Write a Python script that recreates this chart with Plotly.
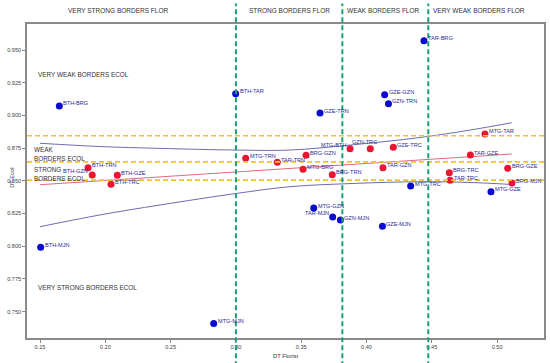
import plotly.graph_objects as go

# ---- data ----
blue_labels = ["BTH-BRG", "BTH-TAR", "TAR-BRG", "GZE-GZN", "GZN-TRN", "GZE-TRN", "BTH-MJN",
               "MTG-MJN", "MTG-TRC", "MTG-GZE", "MTG-GZN", "TAR-MJN", "GZN-MJN", "GZE-MJN"]
blue_x = [0.1648, 0.2998, 0.4440, 0.4139, 0.4168, 0.3644, 0.1505,
          0.2830, 0.4338, 0.4953, 0.3596, 0.3741, 0.3800, 0.4122]
blue_y = [0.9072, 0.9166, 0.9571, 0.9158, 0.9090, 0.9018, 0.7992,
          0.7410, 0.8460, 0.8417, 0.8292, 0.8223, 0.8200, 0.8152]

red_labels = ["BTH-TRN", "BTH-GZN", "BTH-GZE", "BTH-TRC", "MTG-TRN", "TAR-TRN", "BRG-GZN",
              "MTG-BRG", "BRG-TRN", "MTG-BTH", "GZN-TRC", "GZE-TRC", "TAR-GZN", "BRG-TRC",
              "TAR-TRC", "TAR-GZE", "MTG-TAR", "BRG-GZE", "BRG-MJN"]
red_x = [0.1868, 0.1900, 0.2092, 0.2044, 0.3075, 0.3317, 0.3537,
         0.3514, 0.3738, 0.3874, 0.4029, 0.4205, 0.4126, 0.4634,
         0.4640, 0.4795, 0.4907, 0.5081, 0.5114]
red_y = [0.8600, 0.8544, 0.8542, 0.8473, 0.8672, 0.8641, 0.8695,
         0.8588, 0.8547, 0.8745, 0.8745, 0.8756, 0.8600, 0.8562,
         0.8504, 0.8697, 0.8858, 0.8596, 0.8483]

fit_x = [0.150, 0.5112]
fit_y = [0.8470, 0.8705]

band_x = [0.150, 0.1959, 0.2419, 0.3008, 0.3414, 0.3881, 0.4410, 0.4793, 0.5112]
band_upper = [0.8787, 0.8762, 0.8748, 0.8735, 0.8735, 0.8774, 0.8831, 0.8888, 0.8944]
band_lower = [0.8149, 0.8239, 0.8315, 0.8404, 0.8455, 0.8479, 0.8493, 0.8487, 0.8472]

flor_breaks = [0.300, 0.3815, 0.4473]
ecol_breaks = [0.8845, 0.8645, 0.8505]

flor_classes = ["VERY STRONG BORDERS FLOR", "STRONG BORDERS FLOR", "WEAK BORDERS FLOR", "VERY WEAK BORDERS FLOR"]
flor_class_x = [0.2097, 0.3412, 0.4130, 0.4865]

ecol_classes = ["VERY WEAK BORDERS ECOL", "WEAK", "BORDERS ECOL", "STRONG", "BORDERS ECOL", "VERY STRONG BORDERS ECOL"]
ecol_class_y = [0.9309, 0.8743, 0.8674, 0.8583, 0.8514, 0.7688]

x_ticks = [0.15, 0.20, 0.25, 0.30, 0.35, 0.40, 0.45, 0.50]
y_ticks = [0.750, 0.775, 0.800, 0.825, 0.850, 0.875, 0.900, 0.925, 0.950]

x_title = "DT Florist"
y_title = "DT Ecol"

# ---- label placement overrides (style) ----
label_place = {
    "BTH-GZN": ("right", -2, 4),
    "TAR-MJN": ("right", -2, 4),
    "MTG-BTH": ("right", -2, 4),
    "GZN-TRC": ("center", -6, 7),
}

FONT = "Liberation Sans, Arial, sans-serif"
LABEL_COLOR = "#2b2b95"

fig = go.Figure()

fig.add_trace(go.Scatter(x=band_x, y=band_upper, mode="lines", line=dict(color="#6b6bb3", width=1, shape="spline"),
                         hoverinfo="skip", showlegend=False))
fig.add_trace(go.Scatter(x=band_x, y=band_lower, mode="lines", line=dict(color="#6b6bb3", width=1, shape="spline"),
                         hoverinfo="skip", showlegend=False))
fig.add_trace(go.Scatter(x=fit_x, y=fit_y, mode="lines", line=dict(color="#e06a78", width=1),
                         hoverinfo="skip", showlegend=False))

# horizontal yellow dashed lines
for yv in ecol_breaks:
    fig.add_shape(type="line", xref="paper", yref="y", x0=0, x1=1.004, y0=yv, y1=yv,
                  line=dict(color="#f2c12e", width=1.6, dash="5px,3px"))

fig.add_trace(go.Scatter(x=blue_x, y=blue_y, mode="markers",
                         marker=dict(color="#0a0ad0", size=7, line=dict(width=0)),
                         text=blue_labels, showlegend=False))
fig.add_trace(go.Scatter(x=red_x, y=red_y, mode="markers",
                         marker=dict(color="#ea1530", size=7, line=dict(width=0)),
                         text=red_labels, showlegend=False))

# vertical green dashed lines
for xv in flor_breaks:
    fig.add_shape(type="line", xref="x", yref="paper", x0=xv, x1=xv, y0=-0.09, y1=1.065,
                  line=dict(color="#1b9e77", width=2, dash="5px,3px"))

# point labels
for labs, xs, ys in ((blue_labels, blue_x, blue_y), (red_labels, red_x, red_y)):
    for lab, xv, yv in zip(labs, xs, ys):
        anchor, dx, dy = label_place.get(lab, ("left", 2, 2.5))
        fig.add_annotation(x=xv, y=yv, text=lab, showarrow=False, xanchor=anchor, yanchor="middle",
                           xshift=dx, yshift=dy, font=dict(family=FONT, size=5.6, color=LABEL_COLOR))

# florist class labels
for lab, xv in zip(flor_classes, flor_class_x):
    fig.add_annotation(x=xv, y=1.0424, xref="x", yref="paper", text=lab, showarrow=False,
                       xanchor="center", yanchor="middle", font=dict(family=FONT, size=6.5, color="#333333"))

# ecol class labels
for lab, yv in zip(ecol_classes, ecol_class_y):
    xpos = 0.1472 if lab.startswith("VERY") else 0.1440
    fig.add_annotation(x=xpos, y=yv, text=lab, showarrow=False, xanchor="left", yanchor="middle",
                       font=dict(family=FONT, size=6.4, color="#333333"))

# axis titles
fig.add_annotation(x=0.5, y=-0.0573, xref="paper", yref="paper", text=x_title, showarrow=False,
                   xanchor="center", yanchor="middle", font=dict(family=FONT, size=5.8, color="#333333"))
fig.add_annotation(x=-0.029, y=0.51, xref="paper", yref="paper", text=y_title, showarrow=False, textangle=-90,
                   xanchor="center", yanchor="middle", font=dict(family=FONT, size=5.8, color="#333333"))

fig.update_layout(
    width=550, height=363,
    margin=dict(l=27, r=6, t=24, b=25),
    paper_bgcolor="white", plot_bgcolor="white",
    showlegend=False,
    font=dict(family=FONT, size=5.5, color="#444444"),
    xaxis=dict(range=[0.14005, 0.5359], tickvals=x_ticks, tickformat=".2f", showgrid=False, zeroline=False,
               automargin=False,
               showline=True, linecolor="#8a8a8a", linewidth=1.5, mirror=True,
               ticks="outside", ticklen=3, tickcolor="#8a8a8a", tickwidth=1,
               tickfont=dict(family=FONT, size=5.6, color="#444444")),
    yaxis=dict(range=[0.72982, 0.96988], tickvals=y_ticks, tickformat=".3f", showgrid=False, zeroline=False,
               automargin=False,
               showline=True, linecolor="#8a8a8a", linewidth=1.5, mirror=True,
               ticks="outside", ticklen=3, tickcolor="#8a8a8a", tickwidth=1,
               tickfont=dict(family=FONT, size=5.6, color="#444444")),
)

fig.write_html("out.html", config={"displayModeBar": False},
               post_script="document.body.style.margin='0px';document.body.style.overflow='hidden';")
